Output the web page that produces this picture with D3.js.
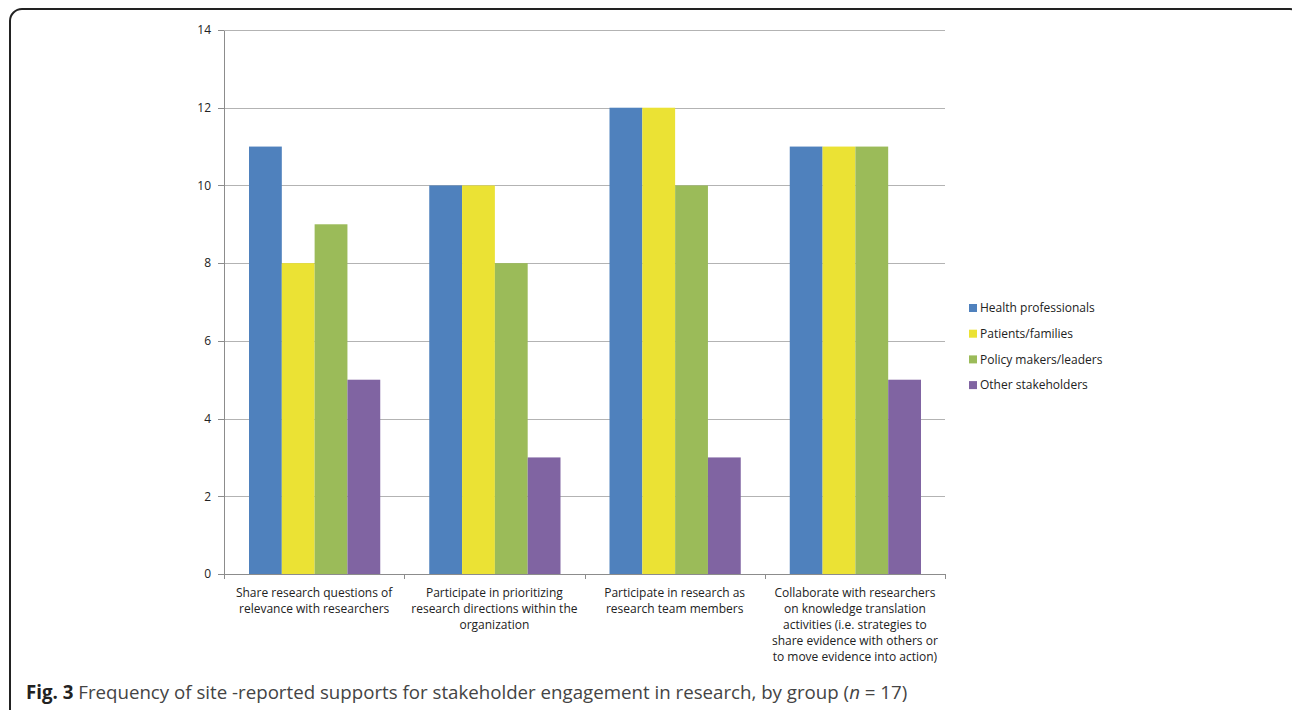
<!DOCTYPE html>
<html lang="en">

<head>
  <meta charset="utf-8">
  <title>Fig. 3</title>
  <style>
    body {
      margin: 0;
      background: #fff;
    }

    .axis text {
      font: 12px "Open Sans", sans-serif;
      fill: #222;
    }

    .axis path,
    .axis line {
      fill: none;
      stroke: #8c8c8c;
      shape-rendering: crispEdges;
    }

    .grid line {
      stroke: #b3b3b3;
      shape-rendering: crispEdges;
    }

    .grid path {
      display: none;
    }

    .cat text,
    .legend text {
      font: 12px "Open Sans", sans-serif;
      fill: #222;
    }

    .caption {
      font: 18.7px "Open Sans", sans-serif;
      fill: #444;
    }
  </style>
</head>

<body>
  <div id="chart"></div>
</body>
<script src="https://d3js.org/d3.v7.min.js"></script>

<script>

  let categories = [
    ["Share research questions of", "relevance with researchers"],
    ["Participate in prioritizing", "research directions within the", "organization"],
    ["Participate in research as", "research team members"],
    ["Collaborate with researchers", "on knowledge translation", "activities (i.e. strategies to", "share evidence with others or", "to move evidence into action)"]
  ];
  let groups = ["Health professionals", "Patients/families", "Policy makers/leaders", "Other stakeholders"];
  let health = [11, 10, 12, 11];
  let patients = [8, 10, 12, 11];
  let policy = [9, 8, 10, 11];
  let other = [5, 3, 3, 5];
  let yTicks = [0, 2, 4, 6, 8, 10, 12, 14];
  let colors = ["#4f81bd", "#ebe234", "#9bbb59", "#8064a2"];

  let series = [health, patients, policy, other];

  let W = 1292, H = 710;
  let mLeft = 224, mTop = 30, pw = 721, ph = 544;

  let svg = d3.select("#chart")
    .append("svg")
    .attr("width", W)
    .attr("height", H);

  // frame
  svg.append("rect")
    .attr("x", 10)
    .attr("y", 9)
    .attr("width", 1292)
    .attr("height", 760)
    .attr("rx", 12)
    .attr("fill", "none")
    .attr("stroke", "#222")
    .attr("stroke-width", 2);

  let g = svg.append("g")
    .attr("transform", "translate(" + mLeft + "," + mTop + ")");

  let keys = categories.map((d, i) => i);
  let x = d3.scaleBand().domain(keys).range([0, pw]);
  let x1 = d3.scaleBand().domain(groups).range([25, x.bandwidth() - 24]);
  let y = d3.scaleLinear().domain([0, 14]).range([ph, 0]);

  // gridlines
  g.append("g")
    .attr("class", "grid")
    .call(d3.axisLeft(y).tickValues(yTicks.slice(1)).tickSize(-pw).tickFormat(""));

  // bars
  let grp = g.selectAll(".grp")
    .data(keys)
    .enter()
    .append("g")
    .attr("transform", (d) => "translate(" + x(d) + ",0)");

  grp.selectAll("rect")
    .data((d) => groups.map((s, j) => ({ s: s, v: series[j][d], c: colors[j] })))
    .enter()
    .append("rect")
    .attr("x", (d) => x1(d.s))
    .attr("width", x1.bandwidth())
    .attr("y", (d) => y(d.v))
    .attr("height", (d) => ph - y(d.v))
    .attr("fill", (d) => d.c);

  // y axis
  g.append("g")
    .attr("class", "axis")
    .call(d3.axisLeft(y).tickValues(yTicks).tickSize(6).tickPadding(7).tickSizeOuter(0));

  // x axis with ticks on category boundaries
  let xb = d3.scaleLinear().domain([0, 4]).range([0, pw]);
  g.append("g")
    .attr("class", "axis")
    .attr("transform", "translate(0," + ph + ")")
    .call(d3.axisBottom(xb).ticks(4).tickSize(5).tickSizeOuter(0).tickFormat(""));

  // category labels
  let cat = g.append("g").attr("class", "cat");
  cat.selectAll("text")
    .data(keys)
    .enter()
    .append("text")
    .attr("text-anchor", "middle")
    .attr("transform", (d) => "translate(" + (x(d) + x.bandwidth() / 2) + "," + (ph + 23) + ")")
    .each(function (d) {
      d3.select(this).selectAll("tspan")
        .data(categories[d])
        .enter()
        .append("tspan")
        .attr("x", 0)
        .attr("y", (t, i) => i * 16)
        .text((t) => t);
    });

  // legend
  let lg = svg.append("g")
    .attr("class", "legend")
    .attr("transform", "translate(969,308)");

  let item = lg.selectAll("g")
    .data(groups)
    .enter()
    .append("g")
    .attr("transform", (d, i) => "translate(0," + (i * 25.7) + ")");

  item.append("rect")
    .attr("x", 0)
    .attr("y", -4)
    .attr("width", 8)
    .attr("height", 8)
    .attr("fill", (d, i) => colors[i]);

  item.append("text")
    .attr("x", 11)
    .attr("dy", "0.35em")
    .text((d) => d);

  // caption
  let cap = svg.append("text")
    .attr("class", "caption")
    .attr("x", 26)
    .attr("y", 699);
  cap.append("tspan").attr("font-weight", "bold").attr("fill", "#222").text("Fig. 3");
  cap.append("tspan").text(" Frequency of site -reported supports for stakeholder engagement in research, by group (");
  cap.append("tspan").attr("font-style", "italic").text("n");
  cap.append("tspan").text(" = 17)");

</script>
